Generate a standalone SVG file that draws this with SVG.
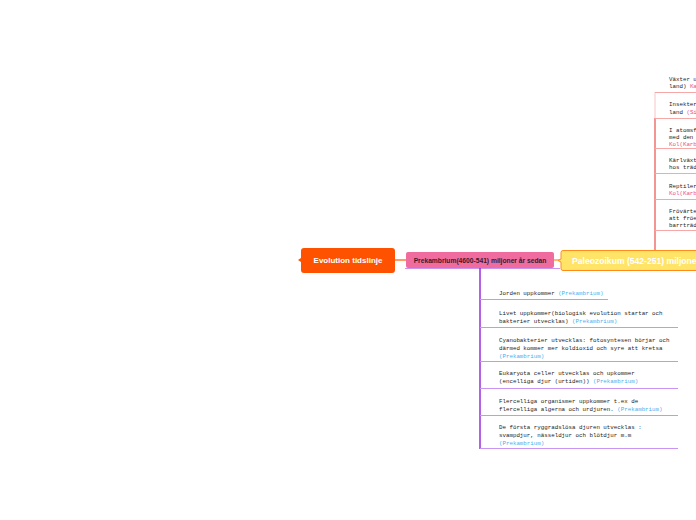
<svg xmlns="http://www.w3.org/2000/svg" width="696" height="520" viewBox="0 0 696 520">
<style>
.mono{font-family:"Liberation Mono","DejaVu Sans Mono",monospace;font-size:5.8px;fill:#222}
.blue{fill:#4aaef0}
.pink{fill:#e8508a}
.pu{stroke:#c994f2;stroke-width:1;fill:none}
.rd{stroke:#f6a8a8;stroke-width:1;fill:none}
.hdr{font-family:"Liberation Sans",Arial,sans-serif;font-weight:bold}
</style>
<rect width="696" height="520" fill="#ffffff"/>
<g id="connectors">
<line x1="395" y1="260" x2="406" y2="260" stroke="#ff5a00" stroke-width="1.2"/>
<line x1="554" y1="260" x2="561" y2="260" stroke="#ff8a1a" stroke-width="1.2"/>
<line x1="405" y1="268.5" x2="560" y2="268.5" stroke="#c994f2" stroke-width="1"/>
<line x1="480" y1="268" x2="480" y2="449" stroke="#9a2ee0" stroke-width="1.5"/>
<line class="pu" x1="480" y1="299.5" x2="608" y2="299.5"/>
<line class="pu" x1="480" y1="327.5" x2="678" y2="327.5"/>
<line class="pu" x1="480" y1="361.5" x2="678" y2="361.5"/>
<line class="pu" x1="480" y1="388.5" x2="678" y2="388.5"/>
<line class="pu" x1="480" y1="415.5" x2="678" y2="415.5"/>
<line class="pu" x1="480" y1="448.5" x2="678" y2="448.5"/>
<line x1="655" y1="92" x2="655" y2="118" stroke="#f8c4c4" stroke-width="1"/>
<line x1="655" y1="118" x2="655" y2="251" stroke="#f07272" stroke-width="1.5"/>
<line class="rd" x1="655" y1="92.5" x2="696" y2="92.5"/>
<line class="rd" x1="655" y1="118.5" x2="696" y2="118.5"/>
<line class="rd" x1="655" y1="148.5" x2="696" y2="148.5"/>
<line class="rd" x1="655" y1="173.5" x2="696" y2="173.5"/>
<line class="rd" x1="655" y1="199.5" x2="696" y2="199.5"/>
<line class="rd" x1="655" y1="230.5" x2="696" y2="230.5"/>
</g>
<g id="root">
<path d="M304,248 H392 Q395,248 395,251 V270 Q395,273 392,273 H304 Q301,273 301,270 V262 L298,260 L301,258 V251 Q301,248 304,248 Z" fill="#ff5200"/>
<text class="hdr" x="348" y="263" font-size="8" fill="#ffffff" text-anchor="middle">Evolution tidslinje</text>
</g>
<g id="prekambrium">
<rect x="406" y="252" width="148" height="16" rx="2" fill="#f06c9e"/>
<text class="hdr" x="480" y="262.5" font-size="6.7" fill="#3a1a2a" text-anchor="middle">Prekambrium(4600-541) miljoner år sedan</text>
</g>
<g id="paleozoikum">
<path d="M563,250.5 H700 V270.5 H563 Q561,270.5 561,268.5 V262 L558,260.5 L561,259 V252.5 Q561,250.5 563,250.5 Z" fill="#ffe468" stroke="#ff8c1a" stroke-width="1"/>
<text class="hdr" x="572" y="263.8" font-size="8.6" fill="#ffffff">Paleozoikum (542-251) miljoner</text>
</g>
<g id="p1"><text class="mono" x="499" y="294.5">Jorden uppkommer <tspan class="blue">(Prekambrium)</tspan></text></g>
<g id="p2"><text class="mono" x="499" y="314.5">Livet uppkommer(biologisk evolution startar och</text><text class="mono" x="499" y="322.5">bakterier utvecklas) <tspan class="blue">(Prekambrium)</tspan></text></g>
<g id="p3"><text class="mono" x="499" y="341.5">Cyanobakterier utvecklas: fotosyntesen börjar och</text><text class="mono" x="499" y="349.5">därmed kommer mer koldioxid och syre att kretsa</text><text class="mono blue" x="499" y="357.5">(Prekambrium)</text></g>
<g id="p4"><text class="mono" x="499" y="374.5"> Eukaryota celler utvecklas och upkommer</text><text class="mono" x="499" y="382.5">(encelliga djur (urtiden)) <tspan class="blue">(Prekambrium)</tspan></text></g>
<g id="p5"><text class="mono" x="499" y="402.5">Flercelliga organismer uppkommer t.ex de</text><text class="mono" x="499" y="410.5">flercelliga algerna och urdjuren. <tspan class="blue">(Prekambrium)</tspan></text></g>
<g id="p6"><text class="mono" x="499" y="428.5">De första ryggradslösa djuren utvecklas :</text><text class="mono" x="499" y="436.5">svampdjur, nässeldjur och blötdjur m.m</text><text class="mono blue" x="499" y="444.5">(Prekambrium)</text></g>
<g id="q1"><text class="mono" x="669" y="80.5">Växter u</text><text class="mono" x="669" y="88">land) <tspan class="pink">Ka</tspan></text></g>
<g id="q2"><text class="mono" x="669" y="106">Insekter</text><text class="mono" x="669" y="113.5">land <tspan class="pink">(Si</tspan></text></g>
<g id="q3"><text class="mono" x="669" y="131.5">I atomsf</text><text class="mono" x="669" y="138.5">med den</text><text class="mono pink" x="669" y="145.5">Kol(Karb</text></g>
<g id="q4"><text class="mono" x="669" y="161.5">Kärlväxt</text><text class="mono" x="669" y="168.5">hos träd</text></g>
<g id="q5"><text class="mono" x="669" y="187.5">Reptiler</text><text class="mono pink" x="669" y="194.5">Kol(Karb</text></g>
<g id="q6"><text class="mono" x="669" y="212.5">Frövärte</text><text class="mono" x="669" y="219.5">att fröe</text><text class="mono" x="669" y="226.5">barrträd</text></g>
</svg>
